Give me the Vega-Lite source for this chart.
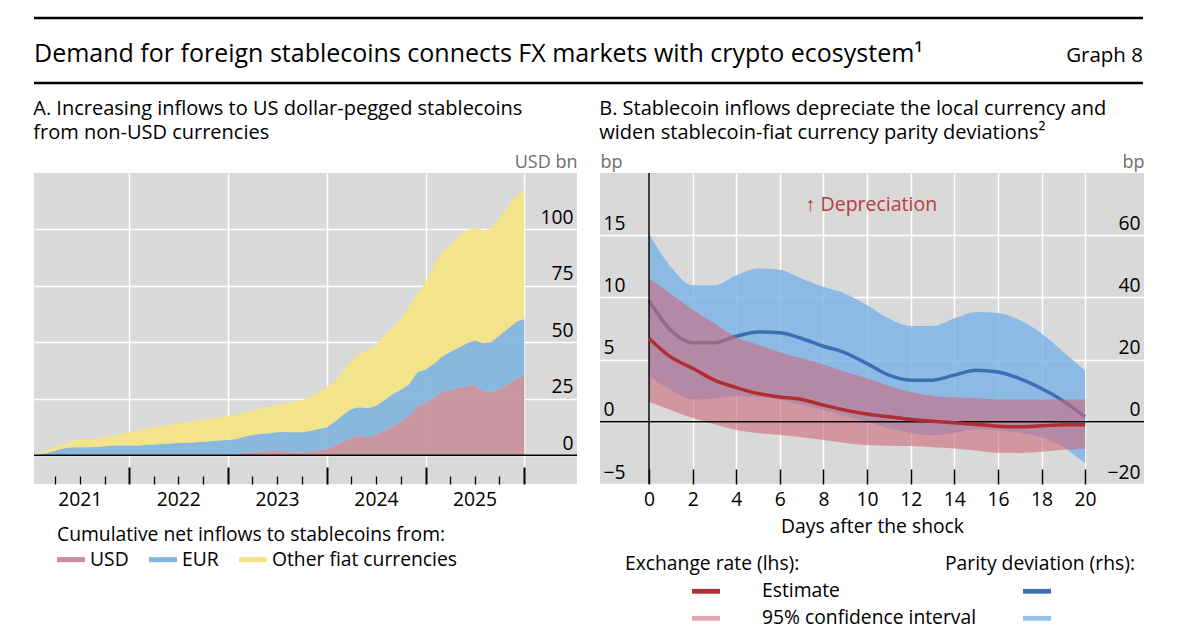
{
  "$schema": "https://vega.github.io/schema/vega-lite/v6.json",
  "padding": {"left": 32, "top": 16, "right": 5, "bottom": 5},
  "config": {
    "font": "Open Sans",
    "view": {"stroke": null},
    "axis": {"labelColor": "#000", "titleColor": "#000"},
    "legend": {"labelLimit": 500, "titleLimit": 600},
    "title": {"fontWeight": "normal", "color": "#000"}
  },
  "spacing": 13,
  "vconcat": [
    {
      "width": 1109,
      "height": 65,
      "data": {"values": [{}]},
      "layer": [
        {
          "mark": {"type": "rule", "strokeWidth": 2.5, "color": "#000"},
          "encoding": {"y": {"datum": 1, "type": "quantitative", "scale": {"domain": [0, 1]}, "axis": null}}
        },
        {
          "mark": {"type": "rule", "strokeWidth": 2.5, "color": "#000"},
          "encoding": {"y": {"datum": 0, "type": "quantitative"}}
        },
        {
          "mark": {"type": "text", "align": "left", "baseline": "alphabetic", "fontSize": 25, "color": "#000"},
          "encoding": {
            "x": {"datum": 0, "type": "quantitative", "scale": {"domain": [0, 1]}, "axis": null},
            "y": {"datum": 0.33, "type": "quantitative"},
            "text": {"value": "Demand for foreign stablecoins connects FX markets with crypto ecosystem¹"}
          }
        },
        {
          "mark": {"type": "text", "align": "right", "baseline": "alphabetic", "fontSize": 20.5, "color": "#000"},
          "encoding": {
            "x": {"datum": 1, "type": "quantitative"},
            "y": {"datum": 0.33, "type": "quantitative"},
            "text": {"value": "Graph 8"}
          }
        }
      ]
    },
    {
      "spacing": 21,
      "resolve": {"scale": {"color": "independent", "fill": "independent"}, "legend": {"color": "independent", "fill": "independent"}},
      "hconcat": [
        {
          "width": 543,
          "height": 311,
          "view": {"fill": "#d9d9d9", "stroke": null},
          "title": {
            "text": ["A. Increasing inflows to US dollar-pegged stablecoins", "from non-USD currencies"],
            "anchor": "start", "fontSize": 20, "lineHeight": 24.5, "offset": 10
          },
          "data": {
            "values": [
              {"date": "2021-01-13", "USD": 0, "EUR": 0, "Other fiat currencies": 0},
              {"date": "2021-02-01", "USD": 0, "EUR": 0.4, "Other fiat currencies": 0.4},
              {"date": "2021-03-01", "USD": 0, "EUR": 1, "Other fiat currencies": 1.5},
              {"date": "2021-04-01", "USD": 0, "EUR": 2, "Other fiat currencies": 2},
              {"date": "2021-05-01", "USD": 0, "EUR": 3, "Other fiat currencies": 2},
              {"date": "2021-06-01", "USD": 0, "EUR": 3.6, "Other fiat currencies": 2.7},
              {"date": "2021-07-01", "USD": 0, "EUR": 3.6, "Other fiat currencies": 3.4},
              {"date": "2021-08-01", "USD": 0, "EUR": 3.6, "Other fiat currencies": 3.4},
              {"date": "2021-09-01", "USD": 0, "EUR": 3.7, "Other fiat currencies": 3.6},
              {"date": "2021-10-01", "USD": 0, "EUR": 4, "Other fiat currencies": 4},
              {"date": "2021-11-01", "USD": 0, "EUR": 4.3, "Other fiat currencies": 4.5},
              {"date": "2021-12-01", "USD": 0, "EUR": 4.3, "Other fiat currencies": 5.2},
              {"date": "2022-01-01", "USD": 0, "EUR": 4.3, "Other fiat currencies": 5.9},
              {"date": "2022-02-01", "USD": 0, "EUR": 4.4, "Other fiat currencies": 6.4},
              {"date": "2022-03-01", "USD": 0, "EUR": 4.6, "Other fiat currencies": 6.9},
              {"date": "2022-04-01", "USD": 0, "EUR": 4.8, "Other fiat currencies": 7.4},
              {"date": "2022-05-01", "USD": 0, "EUR": 5, "Other fiat currencies": 7.9},
              {"date": "2022-06-01", "USD": 0, "EUR": 5.2, "Other fiat currencies": 8.3},
              {"date": "2022-07-01", "USD": 0, "EUR": 5.4, "Other fiat currencies": 8.9},
              {"date": "2022-08-01", "USD": 0, "EUR": 5.6, "Other fiat currencies": 9.2},
              {"date": "2022-09-01", "USD": 0, "EUR": 5.8, "Other fiat currencies": 9.5},
              {"date": "2022-10-01", "USD": 0, "EUR": 6, "Other fiat currencies": 9.8},
              {"date": "2022-11-01", "USD": 0, "EUR": 6.3, "Other fiat currencies": 10.1},
              {"date": "2022-12-01", "USD": 0, "EUR": 6.6, "Other fiat currencies": 10.3},
              {"date": "2023-01-01", "USD": 0.2, "EUR": 6.6, "Other fiat currencies": 10.5},
              {"date": "2023-02-01", "USD": 0.6, "EUR": 6.6, "Other fiat currencies": 10.8},
              {"date": "2023-03-01", "USD": 1.1, "EUR": 7.1, "Other fiat currencies": 10.8},
              {"date": "2023-04-01", "USD": 1.4, "EUR": 7.6, "Other fiat currencies": 10.8},
              {"date": "2023-05-01", "USD": 1.6, "EUR": 7.9, "Other fiat currencies": 11.1},
              {"date": "2023-06-01", "USD": 1.8, "EUR": 8, "Other fiat currencies": 11.7},
              {"date": "2023-07-01", "USD": 2, "EUR": 8.2, "Other fiat currencies": 12.2},
              {"date": "2023-08-01", "USD": 1.7, "EUR": 8.6, "Other fiat currencies": 12.8},
              {"date": "2023-09-01", "USD": 1.3, "EUR": 8.9, "Other fiat currencies": 13.5},
              {"date": "2023-10-01", "USD": 1.3, "EUR": 8.9, "Other fiat currencies": 14.3},
              {"date": "2023-11-01", "USD": 1.6, "EUR": 9.2, "Other fiat currencies": 15.2},
              {"date": "2023-12-01", "USD": 2.2, "EUR": 9.4, "Other fiat currencies": 16.4},
              {"date": "2024-01-01", "USD": 2.8, "EUR": 9.6, "Other fiat currencies": 17.7},
              {"date": "2024-02-01", "USD": 4.5, "EUR": 10.5, "Other fiat currencies": 18},
              {"date": "2024-03-01", "USD": 6.2, "EUR": 11.8, "Other fiat currencies": 19},
              {"date": "2024-04-01", "USD": 7.8, "EUR": 12.7, "Other fiat currencies": 21.5},
              {"date": "2024-05-01", "USD": 8.7, "EUR": 12.6, "Other fiat currencies": 23.7},
              {"date": "2024-06-01", "USD": 8.1, "EUR": 12.9, "Other fiat currencies": 25.5},
              {"date": "2024-07-01", "USD": 9, "EUR": 13, "Other fiat currencies": 27},
              {"date": "2024-08-01", "USD": 11, "EUR": 13.5, "Other fiat currencies": 28.5},
              {"date": "2024-09-01", "USD": 13, "EUR": 14, "Other fiat currencies": 29.5},
              {"date": "2024-10-01", "USD": 14.8, "EUR": 14.2, "Other fiat currencies": 31.5},
              {"date": "2024-11-01", "USD": 17.5, "EUR": 14, "Other fiat currencies": 34.5},
              {"date": "2024-12-01", "USD": 22, "EUR": 14.8, "Other fiat currencies": 34.7},
              {"date": "2025-01-01", "USD": 23.2, "EUR": 14.8, "Other fiat currencies": 38.5},
              {"date": "2025-02-01", "USD": 25.5, "EUR": 15, "Other fiat currencies": 43.5},
              {"date": "2025-03-01", "USD": 28, "EUR": 15.5, "Other fiat currencies": 46},
              {"date": "2025-04-01", "USD": 28.7, "EUR": 17, "Other fiat currencies": 47.3},
              {"date": "2025-05-01", "USD": 29.8, "EUR": 17.7, "Other fiat currencies": 49},
              {"date": "2025-06-01", "USD": 30.8, "EUR": 18.7, "Other fiat currencies": 50},
              {"date": "2025-07-01", "USD": 31.3, "EUR": 19.7, "Other fiat currencies": 49.8},
              {"date": "2025-08-01", "USD": 28.5, "EUR": 21.2, "Other fiat currencies": 49.9},
              {"date": "2025-09-01", "USD": 28.2, "EUR": 22, "Other fiat currencies": 50.1},
              {"date": "2025-10-01", "USD": 29.5, "EUR": 23.5, "Other fiat currencies": 52.5},
              {"date": "2025-11-01", "USD": 31.5, "EUR": 24.5, "Other fiat currencies": 54},
              {"date": "2025-12-01", "USD": 34, "EUR": 25, "Other fiat currencies": 56},
              {"date": "2026-01-01", "USD": 35.4, "EUR": 25, "Other fiat currencies": 56.6}
            ]
          },
          "resolve": {"axis": {"x": "independent"}},
          "layer": [
            {
              "transform": [
                {"fold": ["USD", "EUR", "Other fiat currencies"], "as": ["series", "value"]},
                {
                  "lookup": "series",
                  "from": {
                    "data": {"values": [{"series": "USD", "rank": 1}, {"series": "EUR", "rank": 2}, {"series": "Other fiat currencies", "rank": 3}]},
                    "key": "series", "fields": ["rank"]
                  }
                }
              ],
              "mark": {"type": "area", "fillOpacity": 0.9, "clip": true},
              "encoding": {
                "x": {
                  "field": "date", "type": "temporal",
                  "scale": {"type": "utc", "domain": [{"year": 2021, "month": 1, "date": 13, "utc": true}, {"year": 2026, "month": 7, "date": 15, "utc": true}]},
                  "axis": {
                    "orient": "bottom",
                    "values": [
                      {"year": 2021, "month": 7, "date": 1, "utc": true},
                      {"year": 2022, "month": 7, "date": 1, "utc": true},
                      {"year": 2023, "month": 7, "date": 1, "utc": true},
                      {"year": 2024, "month": 7, "date": 1, "utc": true},
                      {"year": 2025, "month": 7, "date": 1, "utc": true}
                    ],
                    "labelExpr": "utcFormat(datum.value, '%Y')",
                    "ticks": false, "domain": false, "grid": false,
                    "labelFontSize": 19.3, "labelPadding": 6, "title": null
                  }
                },
                "y": {
                  "field": "value", "type": "quantitative", "stack": "zero",
                  "scale": {"domain": [-12.7, 125], "nice": false, "zero": false},
                  "axis": {
                    "orient": "right", "values": [0, 25, 50, 75, 100],
                    "grid": true, "gridColor": "#ffffff", "gridWidth": 1.5,
                    "ticks": false, "tickSize": 0, "domain": false,
                    "labelAlign": "right", "labelBaseline": "alphabetic", "labelOffset": -6, "labelPadding": -4, "labelFontSize": 19.3,
                    "title": "USD bn", "titleAngle": 0, "titleAlign": "right", "titleBaseline": "alphabetic",
                    "titleX": 0, "titleY": -6, "titleColor": "#6d6d6d", "titleFontSize": 18, "titleFontWeight": "normal"
                  }
                },
                "order": {"field": "rank", "type": "quantitative"},
                "color": {
                  "field": "series", "type": "nominal",
                  "sort": ["USD", "EUR", "Other fiat currencies"],
                  "scale": {"domain": ["USD", "EUR", "Other fiat currencies"], "range": ["#c68f9a", "#80b4df", "#f5e381"]},
                  "legend": {
                    "orient": "none", "legendX": 23, "legendY": 353, "direction": "horizontal",
                    "title": "Cumulative net inflows to stablecoins from:",
                    "titleFontSize": 19.3, "titleFontWeight": "normal", "titleColor": "#000", "titlePadding": 0,
                    "labelFontSize": 19.3, "labelColor": "#000", "labelOffset": 5, "columnPadding": 20,
                    "symbolType": "M-1,-0.18H1V0.18H-1Z", "symbolSize": 784, "symbolStrokeWidth": 0
                  }
                }
              }
            },
            {
              "data": {"values": [{}]},
              "mark": {"type": "rule", "color": "#000", "strokeWidth": 1.5},
              "encoding": {
                "x": {
                  "datum": {"year": 2021, "month": 1, "date": 13, "utc": true}, "type": "temporal",
                  "axis": {
                    "orient": "bottom",
                    "values": [
                      {"year": 2021, "month": 4, "date": 1, "utc": true},
                      {"year": 2021, "month": 7, "date": 1, "utc": true},
                      {"year": 2021, "month": 10, "date": 1, "utc": true},
                      {"year": 2022, "month": 1, "date": 1, "utc": true},
                      {"year": 2022, "month": 4, "date": 1, "utc": true},
                      {"year": 2022, "month": 7, "date": 1, "utc": true},
                      {"year": 2022, "month": 10, "date": 1, "utc": true},
                      {"year": 2023, "month": 1, "date": 1, "utc": true},
                      {"year": 2023, "month": 4, "date": 1, "utc": true},
                      {"year": 2023, "month": 7, "date": 1, "utc": true},
                      {"year": 2023, "month": 10, "date": 1, "utc": true},
                      {"year": 2024, "month": 1, "date": 1, "utc": true},
                      {"year": 2024, "month": 4, "date": 1, "utc": true},
                      {"year": 2024, "month": 7, "date": 1, "utc": true},
                      {"year": 2024, "month": 10, "date": 1, "utc": true},
                      {"year": 2025, "month": 1, "date": 1, "utc": true},
                      {"year": 2025, "month": 4, "date": 1, "utc": true},
                      {"year": 2025, "month": 7, "date": 1, "utc": true},
                      {"year": 2025, "month": 10, "date": 1, "utc": true},
                      {"year": 2026, "month": 1, "date": 1, "utc": true}
                    ],
                    "labels": false, "domain": false, "title": null,
                    "grid": true, "gridColor": "#ffffff", "gridWidth": 1.5,
                    "gridOpacity": {"condition": {"test": "utcmonth(datum.value) === 0", "value": 1}, "value": 0},
                    "tickColor": "#000",
                    "tickSize": {"condition": {"test": "utcmonth(datum.value) === 0", "value": -17}, "value": -8},
                    "tickWidth": {"condition": {"test": "utcmonth(datum.value) === 0", "value": 2}, "value": 1.3}
                  }
                },
                "x2": {"datum": {"year": 2026, "month": 7, "date": 15, "utc": true}},
                "y": {"datum": 0, "type": "quantitative"}
              }
            }
          ]
        },
        {
          "width": 544,
          "height": 311,
          "view": {"fill": "#d9d9d9", "stroke": null},
          "title": {
            "text": ["B. Stablecoin inflows depreciate the local currency and", "widen stablecoin-fiat currency parity deviations²"],
            "anchor": "start", "fontSize": 20, "lineHeight": 24.5, "offset": 10
          },
          "data": {
            "values": [
              {"day": 0, "er": 6.7, "er_lo": 1.6, "er_hi": 11.5, "pd": 39, "pd_lo": 15, "pd_hi": 60.5},
              {"day": 1, "er": 5.2, "er_lo": 0.95, "er_hi": 10.3, "pd": 29.4, "pd_lo": 10.2, "pd_hi": 49.8},
              {"day": 2, "er": 4.3, "er_lo": 0.3, "er_hi": 9.0, "pd": 25.4, "pd_lo": 7.2, "pd_hi": 43.9},
              {"day": 3, "er": 3.35, "er_lo": -0.2, "er_hi": 7.9, "pd": 25.4, "pd_lo": 7.5, "pd_hi": 43.9},
              {"day": 4, "er": 2.75, "er_lo": -0.65, "er_hi": 6.8, "pd": 27.5, "pd_lo": 8.2, "pd_hi": 47.1},
              {"day": 5, "er": 2.27, "er_lo": -0.9, "er_hi": 6.2, "pd": 28.9, "pd_lo": 8, "pd_hi": 49.3},
              {"day": 6, "er": 2.0, "er_lo": -1.07, "er_hi": 5.6, "pd": 28.6, "pd_lo": 7, "pd_hi": 48.9},
              {"day": 7, "er": 1.8, "er_lo": -1.25, "er_hi": 5.1, "pd": 26.8, "pd_lo": 5.4, "pd_hi": 46},
              {"day": 8, "er": 1.34, "er_lo": -1.47, "er_hi": 4.6, "pd": 24.3, "pd_lo": 3.8, "pd_hi": 43.4},
              {"day": 9, "er": 0.94, "er_lo": -1.7, "er_hi": 4.0, "pd": 22.2, "pd_lo": 1.8, "pd_hi": 41.2},
              {"day": 10, "er": 0.62, "er_lo": -1.87, "er_hi": 3.5, "pd": 18.7, "pd_lo": 0, "pd_hi": 37.5},
              {"day": 11, "er": 0.4, "er_lo": -1.92, "er_hi": 2.9, "pd": 15, "pd_lo": -2.1, "pd_hi": 33.2},
              {"day": 12, "er": 0.19, "er_lo": -1.95, "er_hi": 2.4, "pd": 13.4, "pd_lo": -3.5, "pd_hi": 30.8},
              {"day": 13, "er": 0.05, "er_lo": -2.05, "er_hi": 2.1, "pd": 13.4, "pd_lo": -4.3, "pd_hi": 30.8},
              {"day": 14, "er": -0.08, "er_lo": -2.14, "er_hi": 1.95, "pd": 15, "pd_lo": -3.5, "pd_hi": 33.2},
              {"day": 15, "er": -0.21, "er_lo": -2.3, "er_hi": 1.9, "pd": 16.6, "pd_lo": -2.4, "pd_hi": 35.3},
              {"day": 16, "er": -0.35, "er_lo": -2.49, "er_hi": 1.8, "pd": 16, "pd_lo": -2.7, "pd_hi": 35},
              {"day": 17, "er": -0.4, "er_lo": -2.5, "er_hi": 1.8, "pd": 13.9, "pd_lo": -3.5, "pd_hi": 32.7},
              {"day": 18, "er": -0.32, "er_lo": -2.4, "er_hi": 1.8, "pd": 10.7, "pd_lo": -5, "pd_hi": 28.4},
              {"day": 19, "er": -0.24, "er_lo": -2.25, "er_hi": 1.8, "pd": 6.7, "pd_lo": -8.2, "pd_hi": 22.5},
              {"day": 20, "er": -0.24, "er_lo": -2.14, "er_hi": 1.8, "pd": 1.6, "pd_lo": -13.4, "pd_hi": 16.4}
            ]
          },
          "resolve": {"scale": {"y": "independent"}},
          "layer": [
            {
              "layer": [
                {
                  "mark": {"type": "area", "interpolate": "monotone"},
                  "encoding": {
                    "x": {
                      "field": "day", "type": "quantitative",
                      "scale": {"domain": [-2.25, 22.7], "nice": false, "zero": false},
                      "axis": {
                        "orient": "bottom",
                        "values": [0, 2, 4, 6, 8, 10, 12, 14, 16, 18, 20],
                        "grid": true, "gridColor": "#ffffff", "gridWidth": 1.5,
                        "tickColor": "#000", "tickSize": -15, "tickWidth": 1.5, "domain": false,
                        "labelFontSize": 19.3, "labelPadding": 21,
                        "title": "Days after the shock", "titleFontSize": 19.3, "titleFontWeight": "normal", "titlePadding": 8
                      }
                    },
                    "y": {
                      "field": "pd_lo", "type": "quantitative",
                      "scale": {"domain": [-20, 80], "nice": false, "zero": false},
                      "axis": {
                        "orient": "right", "values": [-20, 0, 20, 40, 60], "grid": false,
                        "ticks": false, "tickSize": 0, "domain": false,
                        "labelAlign": "right", "labelBaseline": "alphabetic", "labelOffset": -6, "labelPadding": -4, "labelFontSize": 19.3,
                        "title": "bp", "titleAngle": 0, "titleAlign": "right", "titleBaseline": "alphabetic",
                        "titleX": 0, "titleY": -6, "titleColor": "#6d6d6d", "titleFontSize": 18, "titleFontWeight": "normal"
                      }
                    },
                    "y2": {"field": "pd_hi"},
                    "fill": {
                      "datum": "Parity 95% confidence interval",
                      "scale": {"domain": ["Parity estimate", "Parity 95% confidence interval"], "range": ["#3d6eb4", "rgba(121,177,231,0.8)"]},
                      "legend": {
                        "orient": "none", "legendX": 345, "legendY": 382, "direction": "vertical",
                        "title": "Parity deviation (rhs):",
                        "titleFontSize": 19.3, "titleFontWeight": "normal", "titleColor": "#000", "titlePadding": 3,
                        "labelFontSize": 19.3, "labelExpr": "''", "labelOffset": 0, "rowPadding": 2,
                        "symbolType": "M-1,-0.17H1V0.17H-1Z", "symbolSize": 784, "symbolStrokeWidth": 0, "symbolOffset": 78
                      }
                    }
                  }
                },
                {
                  "mark": {"type": "line", "interpolate": "monotone", "strokeWidth": 3.5, "color": "#3d6eb4"},
                  "encoding": {
                    "x": {"field": "day", "type": "quantitative"},
                    "y": {"field": "pd", "type": "quantitative"}
                  }
                }
              ]
            },
            {
              "layer": [
                {
                  "mark": {"type": "area", "interpolate": "monotone"},
                  "encoding": {
                    "x": {"field": "day", "type": "quantitative"},
                    "y": {
                      "field": "er_lo", "type": "quantitative",
                      "scale": {"domain": [-5, 20], "nice": false, "zero": false},
                      "axis": {
                        "orient": "left", "values": [-5, 0, 5, 10, 15],
                        "grid": true, "gridColor": "#ffffff", "gridWidth": 1.5,
                        "ticks": false, "tickSize": 0, "domain": false,
                        "labelAlign": "left", "labelBaseline": "alphabetic", "labelOffset": -6, "labelPadding": -3, "labelFontSize": 19.3,
                        "title": "bp", "titleAngle": 0, "titleAlign": "left", "titleBaseline": "alphabetic",
                        "titleX": 0, "titleY": -6, "titleColor": "#6d6d6d", "titleFontSize": 18, "titleFontWeight": "normal"
                      }
                    },
                    "y2": {"field": "er_hi"},
                    "color": {
                      "datum": "95% confidence interval",
                      "scale": {"domain": ["Estimate", "95% confidence interval"], "range": ["#b02d32", "rgba(205,105,122,0.6)"]},
                      "legend": {
                        "orient": "none", "legendX": 25, "legendY": 382, "direction": "vertical",
                        "title": "Exchange rate (lhs):",
                        "titleFontSize": 19.3, "titleFontWeight": "normal", "titleColor": "#000", "titlePadding": 3,
                        "labelFontSize": 19.3, "labelColor": "#000", "labelOffset": 42, "rowPadding": 2,
                        "symbolType": "M-1,-0.17H1V0.17H-1Z", "symbolSize": 784, "symbolStrokeWidth": 0, "symbolOffset": 67
                      }
                    }
                  }
                },
                {
                  "data": {"values": [{}]},
                  "mark": {"type": "rule", "color": "#000", "strokeWidth": 1.5},
                  "encoding": {"y": {"datum": 0, "type": "quantitative"}}
                },
                {
                  "data": {"values": [{}]},
                  "mark": {"type": "rule", "color": "#000", "strokeWidth": 1.5},
                  "encoding": {"x": {"datum": 0, "type": "quantitative"}}
                },
                {
                  "mark": {"type": "line", "interpolate": "monotone", "strokeWidth": 3.5},
                  "encoding": {
                    "x": {"field": "day", "type": "quantitative"},
                    "y": {"field": "er", "type": "quantitative"},
                    "color": {"datum": "Estimate"}
                  }
                },
                {
                  "data": {"values": [{}]},
                  "mark": {"type": "text", "fontSize": 19.5, "color": "#b83c3c"},
                  "encoding": {
                    "x": {"datum": 10.2, "type": "quantitative"},
                    "y": {"datum": 17.4, "type": "quantitative"},
                    "text": {"value": "↑ Depreciation"}
                  }
                }
              ]
            }
          ]
        }
      ]
    }
  ]
}
